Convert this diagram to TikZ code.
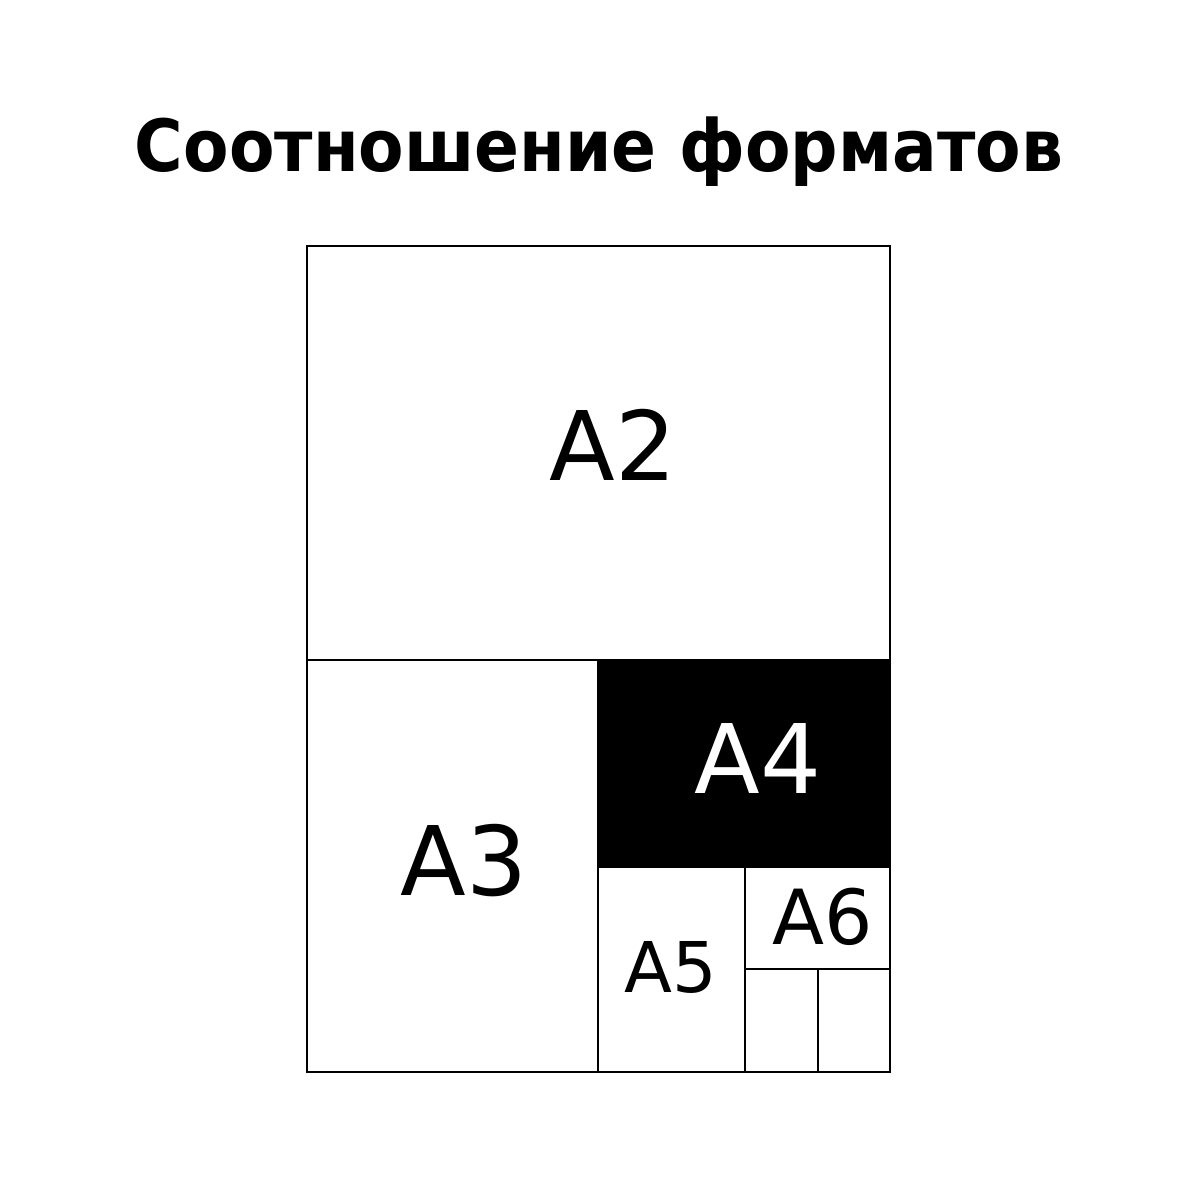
\documentclass[tikz,border=0pt]{standalone}
\usepackage{fontspec}
\setmainfont{DejaVu Sans}
\newfontfamily\titlefont[FakeStretch=0.92]{DejaVu Sans}
\begin{document}
\begin{tikzpicture}[x=1pt,y=-1pt,
  sheet/.style={draw=black,line width=2pt},
  lbl/.style={anchor=base,inner sep=0pt,font=\fontsize{#1}{#1}\selectfont},
  lbl/.default=96]
\useasboundingbox[fill=white] (0,0) rectangle (1200,1200);
\node[anchor=base,inner sep=0pt,font=\titlefont\fontsize{72}{72}\selectfont\bfseries] (title) at (599,171) {Соотношение форматов};
\fill[black] (598,660) rectangle (890,867);
\draw[sheet] (307,246) rectangle (890,1072);
\draw[sheet] (307,660) -- (890,660);
\draw[sheet] (598,660) -- (598,1072);
\draw[sheet] (598,867) -- (890,867);
\draw[sheet] (745,867) -- (745,1072);
\draw[sheet] (745,969) -- (890,969);
\draw[sheet] (818,969) -- (818,1072);
\node[lbl=96] (a2) at (613,480) {A2};
\node[lbl=96] (a3) at (464,895) {A3};
\node[lbl=96,text=white] (a4) at (758,793) {A4};
\node[lbl=76] (a6) at (823,944) {A6};
\node[lbl=70] (a5) at (671,992) {A5};
\end{tikzpicture}
\end{document}
